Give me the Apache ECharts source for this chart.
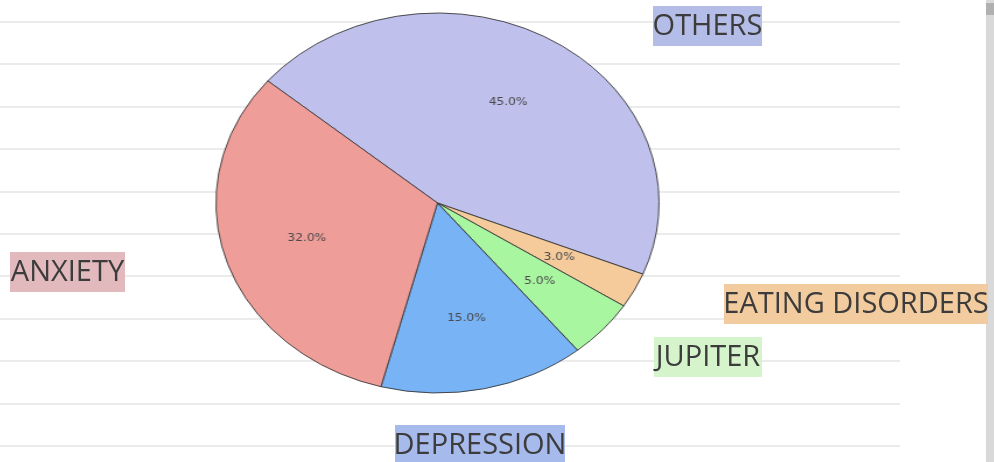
<!DOCTYPE html>
<html>
<head>
<meta charset="utf-8">
<script src="https://cdn.jsdelivr.net/npm/echarts@6/dist/echarts.min.js"></script>
<style>
html,body{margin:0;padding:0;background:#fff;}
#wrap{position:relative;width:994px;height:462px;overflow:hidden;}
#bg,#pie{position:absolute;left:0;top:0;width:994px;height:462px;}
#pie{transform-origin:437.5px 203px;transform:scaleX(1.166);}
</style>
</head>
<body>
<div id="wrap"><div id="bg"></div><div id="pie"></div></div>
<script>
// ---- data ----
const categories = ['OTHERS', 'EATING DISORDERS', 'JUPITER', 'DEPRESSION', 'ANXIETY'];
const shares = [45, 3, 5, 15, 32];

// ---- styles ----
const sliceColors = ['#bfc0ec', '#f5cb9c', '#a9f6a1', '#77b3f5', '#ef9d99'];
const tagColors = ['#b4bde7', '#f2cb9e', '#d6f4cc', '#a7baec', '#e2babd'];
const tagBoxes = [
  [653, 6, 109, 40],
  [724, 284, 264, 40],
  [654, 337, 108, 40],
  [395, 425, 170, 40],
  [10, 252, 115, 40]
];
const CX = 437.5, CY = 203, R = 190;

// background chart: sheet lines + category tags
const bg = echarts.init(document.getElementById('bg'), null, {renderer: 'canvas'});
const tagGraphics = [
  {type: 'rect', shape: {x: 986, y: 0, width: 8, height: 462}, style: {fill: '#d9d9d9'}, z: 50, zlevel: 1},
  {type: 'rect', shape: {x: 986, y: 3, width: 8, height: 12}, style: {fill: '#b0b0b0'}, z: 51, zlevel: 1}
];
categories.forEach(function (name, i) {
  const b = tagBoxes[i];
  tagGraphics.push({
    type: 'rect', z: 60, zlevel: 1,
    shape: {x: b[0], y: b[1], width: b[2], height: b[3]},
    style: {fill: tagColors[i]}
  });
  tagGraphics.push({
    type: 'text', z: 61, zlevel: 1,
    style: {
      text: name, x: b[0] + b[2] / 2, y: b[1] + b[3] / 2 + 1,
      align: 'center', verticalAlign: 'middle',
      font: '29px "Open Sans"', fill: '#3c3c3c'
    }
  });
});
bg.setOption({
  animation: false,
  backgroundColor: '#ffffff',
  grid: {left: 0, right: 94, top: 21.7, bottom: 16.3},
  xAxis: {type: 'value', show: false, min: 0, max: 1},
  yAxis: {
    type: 'value', min: 0, max: 10, interval: 1,
    axisLine: {show: false}, axisTick: {show: false}, axisLabel: {show: false},
    splitLine: {show: true, lineStyle: {color: '#ebebeb', width: 2}}
  },
  series: [{type: 'line', data: []}],
  graphic: tagGraphics
});

// pie chart (stretched horizontally into an ellipse like the reference)
const pie = echarts.init(document.getElementById('pie'), null, {renderer: 'canvas'});
pie.setOption({
  animation: false,
  backgroundColor: 'transparent',
  series: [{
    type: 'pie',
    center: [CX, CY],
    radius: [0, R],
    startAngle: 140,
    clockwise: true,
    avoidLabelOverlap: false,
    data: categories.map(function (n, i) {
      return {name: n, value: shares[i], itemStyle: {color: sliceColors[i]}};
    }),
    itemStyle: {borderColor: '#383838', borderWidth: 0.9},
    label: {
      show: true, position: 'inside',
      formatter: function (p) { return p.value.toFixed(1) + '%'; },
      fontFamily: 'DejaVu Sans', fontSize: 10.5, color: '#4a4a4a'
    },
    labelLine: {show: false},
    labelLayout: function (p) {
      const r = p.labelRect;
      const lx = r.x + r.width / 2, ly = r.y + r.height / 2;
      return {x: CX + (lx - CX) * 1.2, y: CY + (ly - CY) * 1.2, align: 'center', verticalAlign: 'middle'};
    },
    emphasis: {disabled: true}
  }]
});
</script>
</body>
</html>
